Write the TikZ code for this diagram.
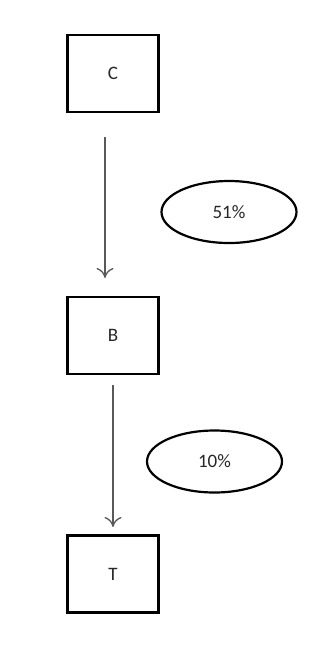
\documentclass[tikz,border=0pt]{standalone}
\usepackage{fontspec}
\setmainfont{Carlito}
\usepackage{tikz}
\usetikzlibrary{arrows.meta}
\usetikzlibrary{shapes.geometric}
\tikzset{box/.style={draw, line width=2.8pt, minimum width=91pt, minimum height=77pt, inner sep=0, outer sep=0}}
\tikzset{share/.style={draw, ellipse, line width=2.2pt, minimum width=135pt, minimum height=62pt, inner sep=0}}
\tikzset{flow/.style={draw=black!65, line width=1.3pt, -{To[length=10pt,width=17pt]}}}

\begin{document}
\begin{tikzpicture}[x=1pt, y=-1pt, font=\fontsize{19}{22}\selectfont, text=black!85]
\useasboundingbox (0,0) rectangle (325,649);
\node[box] (C) at (113,73.5) {C};
\node[box] (B) at (113,335.5) {B};
\node[box] (T) at (113,574) {T};
\node[share] (p51) at (229,212) {51\%};
\node[share] (p10) at (214.5,461.5) {10\%};
\draw[flow, shorten <=25pt, shorten >=19pt] ([xshift=-8pt]C.south) -- ([xshift=-8pt]B.north);
\draw[flow, shorten <=11pt, shorten >=8.5pt] (B.south) -- (T.north);
\end{tikzpicture}
\end{document}
